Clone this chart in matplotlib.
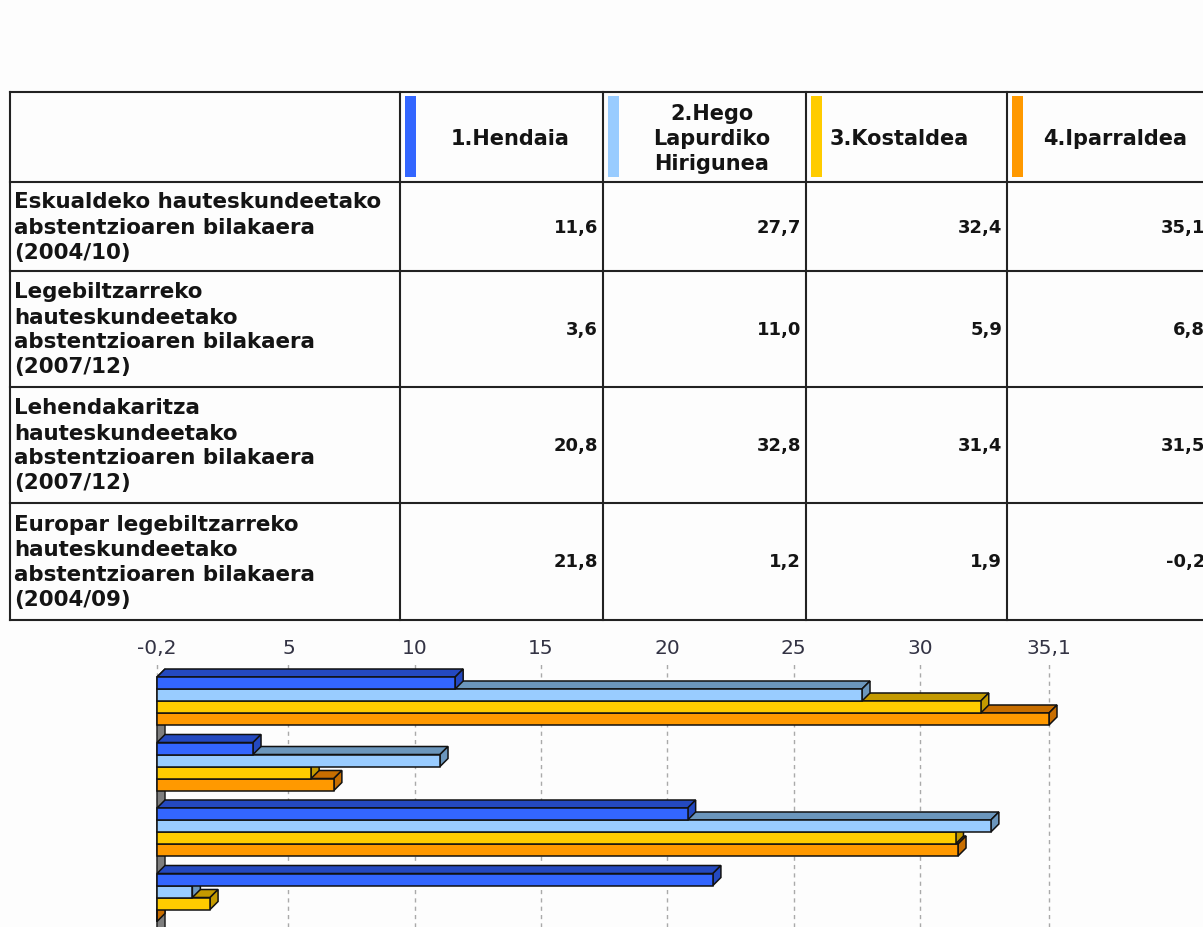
import matplotlib
matplotlib.use("Agg")
import matplotlib.pyplot as plt
from matplotlib.lines import Line2D
from matplotlib.patches import Polygon, Rectangle

# ---- data -------------------------------------------------------------
regions = ["1.Hendaia", "2.Hego\nLapurdiko\nHirigunea", "3.Kostaldea", "4.Iparraldea"]
indicators = [
    "Eskualdeko hauteskundeetako\nabstentzioaren bilakaera\n(2004/10)",
    "Legebiltzarreko\nhauteskundeetako\nabstentzioaren bilakaera\n(2007/12)",
    "Lehendakaritza\nhauteskundeetako\nabstentzioaren bilakaera\n(2007/12)",
    "Europar legebiltzarreko\nhauteskundeetako\nabstentzioaren bilakaera\n(2004/09)",
]
hendaia = [11.6, 3.6, 20.8, 21.8]
hego_lapurdi = [27.7, 11.0, 32.8, 1.2]
kostaldea = [32.4, 5.9, 31.4, 1.9]
iparraldea = [35.1, 6.8, 31.5, -0.2]
series = [hendaia, hego_lapurdi, kostaldea, iparraldea]

front_colors = ["#3366FF", "#99CCFF", "#FFCC00", "#FF9900"]
side_colors = ["#2449C0", "#6B96BC", "#C49A00", "#C86E00"]

# ---- canvas -----------------------------------------------------------
W, H = 1203, 928
BG = "#FDFDFD"
TXT = "#141414"
fig = plt.figure(figsize=(W / 100, H / 100), dpi=100)
fig.patch.set_facecolor(BG)


def fx(x):
    return x / W


def fy(y):
    return 1 - y / H


def fline(x0, y0, x1, y1):
    fig.add_artist(Line2D([fx(x0), fx(x1)], [fy(y0), fy(y1)],
                          transform=fig.transFigure, color="#222222", lw=1.5))


def fmt(v):
    return f"{v:.1f}".replace(".", ",")


# ---- table ------------------------------------------------------------
col_x = [10, 400, 603, 806, 1007, 1210]
row_y = [93, 183, 272, 388, 504, 621]
LINE_H = 25

for y in row_y:
    fline(col_x[0], y, W + 5, y)
for x in col_x[:-1]:
    fline(x, row_y[0], x, row_y[-1])

# header: colour swatch + centred name
head_cx = [510, 712, 899, 1115]
for j, name in enumerate(regions):
    left = col_x[j + 1]
    fig.add_artist(Rectangle((fx(left + 5), fy(178)), 11 / W, 81 / H,
                             transform=fig.transFigure, color=front_colors[j], lw=0))
    lines = name.split("\n")
    yc = (row_y[0] + row_y[1]) / 2 + 1
    for k, ln in enumerate(lines):
        yy = yc + (k - (len(lines) - 1) / 2) * LINE_H
        fig.text(fx(head_cx[j]), fy(yy), ln, ha="center", va="center",
                 fontsize=15, fontweight="bold", color=TXT)

# body rows
for i, label in enumerate(indicators):
    yc = (row_y[i + 1] + row_y[i + 2]) / 2
    lines = label.split("\n")
    for k, ln in enumerate(lines):
        yy = yc + (k - (len(lines) - 1) / 2) * LINE_H
        fig.text(fx(14), fy(yy), ln, ha="left", va="center",
                 fontsize=15.4, fontweight="bold", color=TXT)
    for j, vals in enumerate(series):
        fig.text(fx(col_x[j + 2] - 5), fy(yc), fmt(vals[i]), ha="right", va="center",
                 fontsize=13, fontweight="bold", color=TXT)

# ---- 3D-look horizontal bars ---------------------------------------------
vmin = min(min(s) for s in series)
vmax = max(max(s) for s in series)

AX_L, AX_R, AX_T = 157, 1049, 662
px_per_unit = (AX_R - AX_L) / (vmax - vmin)
PAD = 6                           # keep edge gridlines from being clipped
ax = fig.add_axes([fx(AX_L - PAD), 0, (AX_R - AX_L + 2 * PAD) / W, fy(AX_T)])
ax.set_facecolor("none")
ax.set_xlim(vmin - PAD / px_per_unit, vmax + PAD / px_per_unit)
ax.set_ylim(H - AX_T, 0)          # y in pixels below the axes top

DEPTH = 8
dx = DEPTH / px_per_unit
BAR_H = 12
GROUP_STEP = 65.5
FIRST = 16
EDGE = "#111111"

ticks = [vmin] + list(range(5, 35, 5)) + [vmax]
ax.set_xticks(ticks)
ax.set_xticklabels([fmt(t) if t != int(t) else str(int(t)) for t in ticks])
ax.xaxis.tick_top()
ax.tick_params(axis="x", length=0, pad=3, labelsize=14.5, labelcolor="#333344")
ax.set_yticks([])
for sp in ax.spines.values():
    sp.set_visible(False)
ax.grid(axis="x", color="#AAAAAA", linestyle=(0, (3, 3)), lw=1)
ax.set_axisbelow(True)

# left wall
ax.add_patch(Polygon([(vmin, FIRST), (vmin + dx, FIRST - DEPTH),
                      (vmin + dx, 400), (vmin, 400)],
                     facecolor="#7E7E7E", edgecolor="#222222", lw=1.1, zorder=2))

for g in range(len(indicators)):
    for s in reversed(range(len(series))):
        v = series[s][g]
        yt = FIRST + g * GROUP_STEP + s * BAR_H
        yb = yt + BAR_H
        z = 3 + g * 20 + (len(series) - s) * 4
        top = Polygon([(vmin, yt), (v, yt), (v + dx, yt - DEPTH), (vmin + dx, yt - DEPTH)],
                      facecolor=side_colors[s], edgecolor=EDGE, lw=1.1,
                      zorder=z, clip_on=False)
        side = Polygon([(v, yt), (v + dx, yt - DEPTH), (v + dx, yb - DEPTH), (v, yb)],
                       facecolor=side_colors[s], edgecolor=EDGE, lw=1.1,
                       zorder=z + 1, clip_on=False)
        ax.add_patch(top)
        ax.add_patch(side)
        ax.barh(yt + BAR_H / 2, v - vmin, left=vmin, height=BAR_H,
                color=front_colors[s], edgecolor=EDGE, lw=1.1,
                zorder=z + 2, clip_on=False)

fig.savefig("out.png", dpi=100, facecolor=BG)
